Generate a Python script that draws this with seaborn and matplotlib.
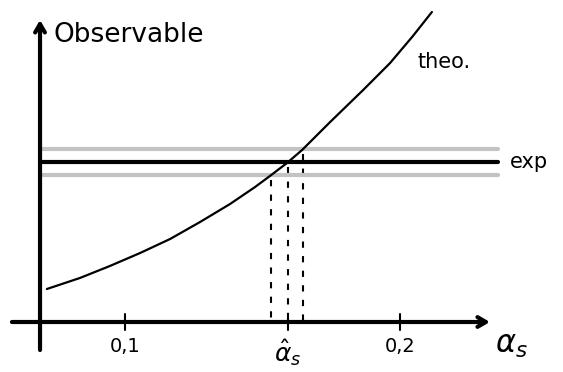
import numpy as np
import pandas as pd
import matplotlib
matplotlib.use("Agg")
import matplotlib.pyplot as plt
import seaborn as sns

# theory prediction of the observable as a function of alpha_s
alpha_s = [0.0716, 0.0836, 0.0945, 0.1055, 0.1164, 0.1273, 0.1382, 0.1473,
           0.1527, 0.1589, 0.1644, 0.1746, 0.1866, 0.1964, 0.2047, 0.2116]
observable = [0.33, 0.44, 0.56, 0.69, 0.83, 1.00, 1.18, 1.35,
              1.46, 1.59, 1.72, 2.00, 2.32, 2.59, 2.86, 3.10]

# experimental measurement and its uncertainty
exp_value = 1.60
exp_error = 0.13

tick_values = [0.1, 0.2]
tick_labels = ["0,1", "0,2"]

sns.set_style("white")
plt.rcParams["font.family"] = ["DejaVu Sans"]
plt.rcParams["text.color"] = "black"

fig = plt.figure(figsize=(5.63, 3.72), dpi=100)
ax = fig.add_axes([0, 0, 1, 1])
ax.set_xlim(0.05455, 0.25927)
ax.set_ylim(-0.50, 3.22)
ax.axis("off")

df = pd.DataFrame({"alpha_s": alpha_s, "observable": observable})
sns.lineplot(data=df, x="alpha_s", y="observable", color="black",
             linewidth=1.6, ax=ax, legend=False, zorder=4)
ax.lines[-1].set_solid_joinstyle("round")
ax.lines[-1].set_solid_capstyle("round")

x_left, x_right = 0.0691, 0.2356
for off, col in [(exp_error, "#c3c3c3"), (-exp_error, "#c3c3c3"), (0.0, "black")]:
    ax.plot([x_left, x_right], [exp_value + off] * 2, color=col,
            linewidth=3, solid_capstyle="round", zorder=3 if col == "black" else 2)

# where the theory curve crosses the measurement band
cross = [np.interp(exp_value + d, observable, alpha_s)
         for d in (-exp_error, 0.0, exp_error)]
for a in cross:
    o = np.interp(a, alpha_s, observable)
    ax.plot([a, a], [o - 0.05, 0.02], color="black", linewidth=1.5,
            linestyle=(0, (3, 4)), zorder=1)

# coordinate axes with arrow heads
arrow = dict(arrowstyle="->,head_length=0.6,head_width=0.35",
             color="black", lw=3, shrinkA=0, shrinkB=0)
ax.annotate("", xy=(0.2327, 0.0), xytext=(0.0589, 0.0), arrowprops=arrow)
ax.annotate("", xy=(0.0691, 3.02), xytext=(0.0691, -0.28), arrowprops=arrow)

# ticks along the alpha_s axis
for t, lab in zip(tick_values, tick_labels):
    ax.plot([t, t], [-0.08, 0.08], color="black", linewidth=1.5)
    ax.text(t, -0.25, lab, ha="center", va="center", fontsize=14)
ax.plot([cross[1], cross[1]], [-0.08, 0.04], color="black", linewidth=1.5)
ax.text(cross[1], -0.31, r"$\hat{\alpha}_s$", ha="center", va="center",
        fontsize=18)

ax.text(0.2345, -0.23, r"$\alpha_s$", ha="left", va="center", fontsize=22)
ax.text(0.0740, 2.87, "Observable", ha="left", va="center", fontsize=19)
ax.text(0.2065, 2.60, "theo.", ha="left", va="center", fontsize=15)
ax.text(0.2400, exp_value, "exp", ha="left", va="center", fontsize=15)

fig.savefig("out.png", dpi=100)
